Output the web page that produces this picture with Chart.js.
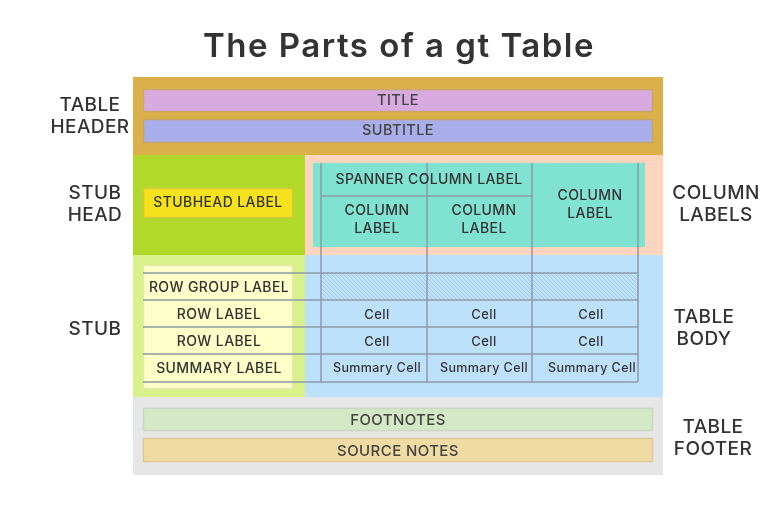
<!DOCTYPE html>
<html><head><meta charset="utf-8">
<script src="https://cdn.jsdelivr.net/npm/chart.js"></script>
<style>html,body{margin:0;padding:0;background:#fff}#w{width:778px;height:507px}</style>
</head><body><div id="w"><canvas id="c"></canvas></div>
<script>
// regions: [x0, y0, x1, y1, fill]
const boxNames = ["header","stubhead","collabels","stub","body","footer","title","subtitle","stubheadLabel","colInner","stubInner","footnotes","sourcenotes"];
const boxX0 = [133,133,305,133,305,133,143,143,143,313,143,143,143];
const boxY0 = [77,155,155,255,255,397,89,119,188,163,265,408,438];
const boxX1 = [663,305,663,305,663,663,653,653,293,645,293,653,653];
const boxY1 = [155,255,255,397,397,475,112,143,218,247,389,431,462];
const boxFill = ["#dcb048","#b0d92b","#fdd4bd","#d9f18b","#bee1fb","#e6e6e6","#d8aadf","#a9aeea","#f5e21c","#80e2d0","#fdfec8","#d5e8c6","#f0dca2"];
const boxStroke = [null,null,null,null,null,null,"#c9a66a","#c4a66a","#d8c83a",null,"#e8e8b0","#c8d8c0","#ddc898"];
const vLinesX = [321,427,532,638];
const hLinesY = [273,300,327,354,382];
const gridTop = 163, gridBottom = 382, gridLeft = 143;
const spannerY = 196;
const texts = [
 ["TITLE",398,101,14.5,"#444"],["SUBTITLE",398,131,14.5,"#444"],
 ["STUBHEAD LABEL",218,203,14,"#333"],
 ["SPANNER COLUMN LABEL",429,180,14,"#333"],
 ["COLUMN",377,211,14,"#333"],["LABEL",377,229,14,"#333"],
 ["COLUMN",484,211,14,"#333"],["LABEL",484,229,14,"#333"],
 ["COLUMN",590,196,14,"#333"],["LABEL",590,214,14,"#333"],
 ["ROW GROUP LABEL",219,288,14,"#333"],["ROW LABEL",219,315,14,"#333"],
 ["ROW LABEL",219,342,14,"#333"],["SUMMARY LABEL",219,369,14,"#333"],
 ["Cell",377,315,13,"#333"],["Cell",484,315,13,"#333"],["Cell",591,315,13,"#333"],
 ["Cell",377,342,13,"#333"],["Cell",484,342,13,"#333"],["Cell",591,342,13,"#333"],
 ["Summary Cell",377,368,12.5,"#333"],["Summary Cell",484,368,12.5,"#333"],["Summary Cell",592,368,12.5,"#333"],
 ["FOOTNOTES",398,420,15,"#444"],["SOURCE NOTES",398,451,15,"#444"],
 ["TABLE",90,105,19,"#333"],["HEADER",90,127,19,"#333"],
 ["STUB",95,193,19,"#333"],["HEAD",95,215,19,"#333"],["STUB",95,329,19,"#333"],
 ["COLUMN",716,193,19,"#333"],["LABELS",716,215,19,"#333"],
 ["TABLE",704,317,19,"#333"],["BODY",704,339,19,"#333"],
 ["TABLE",713,427,19,"#333"],["FOOTER",713,449,19,"#333"]
];
const heading = "The Parts of a gt Table";

const diagram = {
 id:"diagram",
 afterDatasetsDraw(chart){
  const ctx=chart.ctx, xs=chart.scales.x, ys=chart.scales.y;
  const X=v=>xs.getPixelForValue(v), Y=v=>ys.getPixelForValue(v);
  ctx.save();
  for(let i=0;i<boxNames.length;i++){
    const x=X(boxX0[i]),y=Y(boxY0[i]),w=X(boxX1[i])-x,h=Y(boxY1[i])-y;
    ctx.fillStyle=boxFill[i];ctx.fillRect(x,y,w,h);
    if(boxStroke[i]){ctx.strokeStyle=boxStroke[i];ctx.lineWidth=1.5;ctx.strokeRect(x+0.5,y+0.5,w-1,h-1);}
  }
  ctx.save();
  const hx=X(vLinesX[0]),hy=Y(hLinesY[0]),hw=X(vLinesX[3])-hx,hh=Y(hLinesY[1])-hy;
  ctx.beginPath();ctx.rect(hx,hy,hw,hh);ctx.clip();
  ctx.strokeStyle="#9ebfd8";ctx.lineWidth=0.7;
  for(let s=-hh;s<hw+hh;s+=4){ctx.beginPath();ctx.moveTo(hx+s,hy);ctx.lineTo(hx+s+hh,hy+hh);ctx.stroke();}
  ctx.restore();
  ctx.strokeStyle="#8d9aa6";ctx.lineWidth=1.5;
  vLinesX.forEach(v=>{ctx.beginPath();ctx.moveTo(X(v),Y(gridTop));ctx.lineTo(X(v),Y(gridBottom));ctx.stroke();});
  hLinesY.forEach(v=>{ctx.beginPath();ctx.moveTo(X(gridLeft),Y(v));ctx.lineTo(X(vLinesX[3]),Y(v));ctx.stroke();});
  ctx.beginPath();ctx.moveTo(X(vLinesX[0]),Y(spannerY));ctx.lineTo(X(vLinesX[2]),Y(spannerY));ctx.stroke();
  ctx.textAlign="center";ctx.textBaseline="middle";
  ctx.letterSpacing="0.4px";
  texts.forEach(t=>{ctx.font="500 "+t[3]+"px Inter, 'Open Sans', sans-serif";ctx.fillStyle=t[4];ctx.fillText(t[0],X(t[1]),Y(t[2]));});
  ctx.letterSpacing="1.5px";
  ctx.font="600 33px Inter, 'Open Sans', sans-serif";ctx.fillStyle="#333";
  ctx.fillText(heading,X(399),Y(47));
  ctx.restore();
 }
};
new Chart(document.getElementById("c"),{
 type:"scatter",
 data:{datasets:[{data:[]}]},
 options:{responsive:true,maintainAspectRatio:false,animation:false,
  layout:{padding:0},
  plugins:{legend:{display:false},tooltip:{enabled:false}},
  scales:{x:{type:"linear",min:0,max:778,display:false},y:{type:"linear",min:0,max:507,reverse:true,display:false}}},
 plugins:[diagram]
});
</script></body></html>
